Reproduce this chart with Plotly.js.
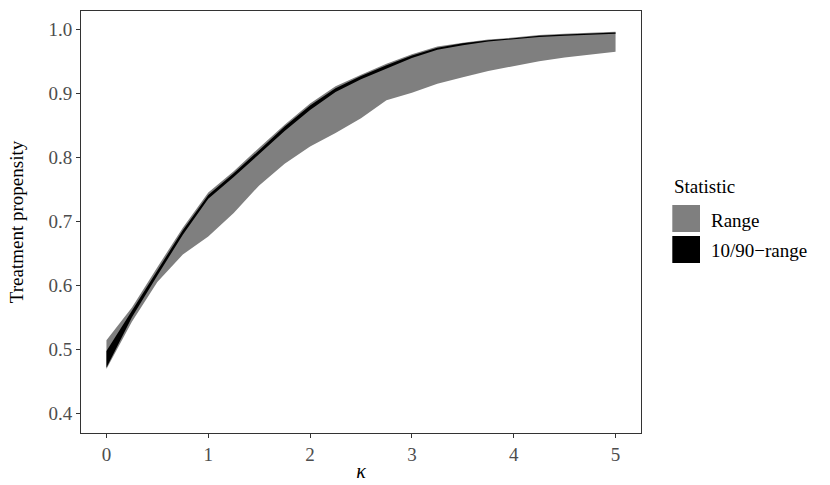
<!DOCTYPE html>
<html>
<head>
<meta charset="utf-8">
<script src="https://cdn.plot.ly/plotly-3.0.1.min.js"></script>
<style>html,body{margin:0;padding:0;background:#fff;}#chart{width:830px;height:485px;}</style>
</head>
<body>
<div id="chart"></div>
<script>
// kappa grid
var kappa = [0, 0.25, 0.5, 0.75, 1, 1.25, 1.5, 1.75, 2, 2.25, 2.5, 2.75, 3, 3.25, 3.5, 3.75, 4, 4.25, 4.5, 4.75, 5];
// Range (min/max) of treatment propensity
var rangeMax = [0.514, 0.565, 0.628, 0.690, 0.745, 0.778, 0.815, 0.851, 0.884, 0.911, 0.929, 0.946, 0.961, 0.973, 0.979, 0.984, 0.987, 0.991, 0.993, 0.995, 0.996];
var rangeMin = [0.469, 0.543, 0.605, 0.648, 0.676, 0.713, 0.756, 0.790, 0.817, 0.838, 0.861, 0.889, 0.901, 0.915, 0.925, 0.935, 0.942, 0.950, 0.956, 0.961, 0.965];
// 10/90 range
var p90 = [0.497, 0.560, 0.624, 0.686, 0.741, 0.775, 0.811, 0.848, 0.881, 0.908, 0.927, 0.944, 0.959, 0.971, 0.978, 0.983, 0.986, 0.990, 0.992, 0.994, 0.995];
var p10 = [0.471, 0.550, 0.615, 0.679, 0.735, 0.769, 0.805, 0.841, 0.874, 0.902, 0.922, 0.939, 0.955, 0.968, 0.975, 0.981, 0.984, 0.988, 0.990, 0.992, 0.993];
var seriesNames = ["Range", "10/90\u2212range"];
var legendTitle = "Statistic";
var xTicks = [0, 1, 2, 3, 4, 5];
var yTicks = [0.4, 0.5, 0.6, 0.7, 0.8, 0.9, 1.0];
var yTickText = ["0.4", "0.5", "0.6", "0.7", "0.8", "0.9", "1.0"];

function ribbon(lo, hi) {
  var xs = kappa.concat(kappa.slice().reverse());
  var ys = hi.concat(lo.slice().reverse());
  return {x: xs, y: ys};
}
var r1 = ribbon(rangeMin, rangeMax);
var r2 = ribbon(p10, p90);
var FONT = "Liberation Serif, Times New Roman, serif";

var traces = [
  {x: r1.x, y: r1.y, type: "scatter", mode: "lines", fill: "toself", fillcolor: "#7f7f7f",
   line: {width: 0, color: "#7f7f7f"}, name: seriesNames[0], showlegend: false, hoverinfo: "skip"},
  {x: r2.x, y: r2.y, type: "scatter", mode: "lines", fill: "toself", fillcolor: "#000000",
   line: {width: 0, color: "#000000"}, name: seriesNames[1], showlegend: false, hoverinfo: "skip"}
];

var layout = {
  width: 830, height: 485,
  margin: {l: 81, r: 189, t: 11, b: 52, pad: 0},
  paper_bgcolor: "#ffffff", plot_bgcolor: "#ffffff",
  font: {family: FONT, size: 19, color: "#000"},
  showlegend: false,
  xaxis: {
    range: [-0.25, 5.25], tickvals: xTicks, ticks: "outside", ticklen: 4, tickwidth: 1, tickcolor: "#333",
    showgrid: false, zeroline: false, showline: true, mirror: true, linecolor: "#333", linewidth: 1,
    tickfont: {family: FONT, size: 19, color: "#4d4d4d"},
    title: {text: "<i>\u03ba</i>", font: {family: FONT, size: 20, color: "#000"}, standoff: 0}
  },
  yaxis: {
    range: [0.369, 1.0286], tickvals: yTicks, ticktext: yTickText, ticks: "outside", ticklen: 4, tickwidth: 1, tickcolor: "#333",
    showgrid: false, zeroline: false, showline: true, mirror: true, linecolor: "#333", linewidth: 1,
    tickfont: {family: FONT, size: 19, color: "#4d4d4d"},
    title: {text: "Treatment propensity", font: {family: FONT, size: 19, color: "#000"}, standoff: 19}
  },
  shapes: [
    {type: "rect", xref: "paper", yref: "paper", x0: 1.0559, x1: 1.1054, y0: 0.4763, y1: 0.5403,
     fillcolor: "#7f7f7f", line: {width: 0}},
    {type: "rect", xref: "paper", yref: "paper", x0: 1.0559, x1: 1.1054, y0: 0.4028, y1: 0.4668,
     fillcolor: "#000000", line: {width: 0}}
  ],
  annotations: [
    {xref: "paper", yref: "paper", x: 1.0545, y: 0.5836, xanchor: "left", yanchor: "middle", showarrow: false,
     text: legendTitle, font: {family: FONT, size: 19, color: "#000"}},
    {xref: "paper", yref: "paper", x: 1.122, y: 0.5047, xanchor: "left", yanchor: "middle", showarrow: false,
     text: seriesNames[0], font: {family: FONT, size: 19, color: "#000"}},
    {xref: "paper", yref: "paper", x: 1.122, y: 0.4313, xanchor: "left", yanchor: "middle", showarrow: false,
     text: seriesNames[1], font: {family: FONT, size: 19, color: "#000"}}
  ]
};
Plotly.newPlot("chart", traces, layout, {displayModeBar: false, staticPlot: true});
</script>
</body>
</html>
